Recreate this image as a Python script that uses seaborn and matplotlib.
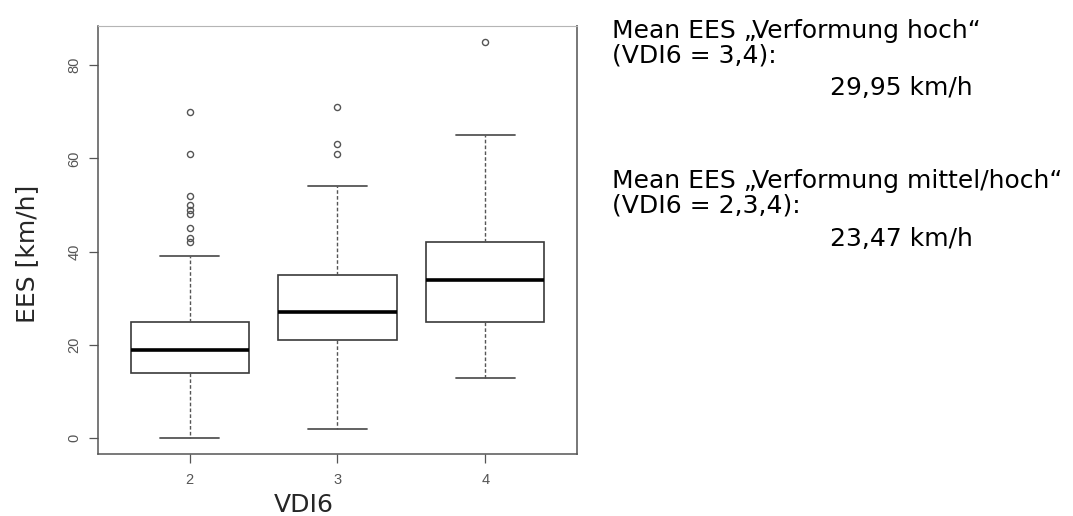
import matplotlib
matplotlib.use("Agg")
import matplotlib.pyplot as plt
import pandas as pd
import seaborn as sns

# Five-number summaries and outliers of EES per VDI6 class
groups = ["2", "3", "4"]
whisker_low = [0, 2, 13]
q1 = [14, 21, 25]
median = [19, 27, 34]
q3 = [25, 35, 42]
whisker_high = [39, 54, 65]
outliers = [
    [42, 43, 45, 48, 49, 50, 52, 61, 70],
    [61, 63, 71],
    [85],
]

mean_high = "29,95 km/h"
mean_mid_high = "23,47 km/h"

# Long-form table whose quartiles, whisker ends and outliers reproduce the summaries
rows = []
for g, lo, a, m, b, hi, out in zip(groups, whisker_low, q1, median, q3,
                                    whisker_high, outliers):
    k = len(out) + 1
    vals = [lo] * k + [a] * k + [m] * k + [b, hi] + list(out)
    rows += [(g, v) for v in vals]
df = pd.DataFrame(rows, columns=["VDI6", "EES"])

sns.set_style("white")
plt.rcParams["font.family"] = ["DejaVu Sans"]

W, H = 1073, 516
fig = plt.figure(figsize=(W / 100, H / 100), dpi=100)
L, R, T, B = 98, 577, 26, 454
ax = fig.add_axes([L / W, 1 - B / H, (R - L) / W, (B - T) / H])

sns.boxplot(
    data=df, x="VDI6", y="EES", order=groups, ax=ax,
    color="white", saturation=1, width=0.8, whis=1.5,
    linecolor="#3a3a3a",
    boxprops=dict(linewidth=1.2, edgecolor="#3a3a3a", facecolor="white"),
    medianprops=dict(linewidth=2.6, color="black"),
    whiskerprops=dict(linewidth=1.0, color="#555555", linestyle=(0, (2.6, 1.6))),
    capprops=dict(linewidth=1.3, color="#555555"),
    flierprops=dict(marker="o", markersize=4.4, markerfacecolor="none",
                    markeredgecolor="#555555", markeredgewidth=1.0),
)

ax.set_xlim(-0.62, 2.62)
ax.set_ylim(-3.4, 88.4)
ax.set_yticks([0, 20, 40, 60, 80])

for side, col, lw in [("left", "#555555", 1.1), ("bottom", "#555555", 1.1),
                      ("top", "#b5b5b5", 0.8), ("right", "#777777", 1.4)]:
    ax.spines[side].set_visible(True)
    ax.spines[side].set_color(col)
    ax.spines[side].set_linewidth(lw)

ax.tick_params(axis="both", which="major", direction="out", length=6.5,
               width=0.9, color="#555555", labelcolor="#555555",
               labelsize=10.5, left=True, bottom=True)
ax.tick_params(axis="y", pad=5.5)
ax.tick_params(axis="x", pad=7)
for lab in ax.get_yticklabels():
    lab.set_rotation(90)
    lab.set_va("center")
    lab.set_ha("right")
for lab in ax.get_xticklabels() + ax.get_yticklabels():
    lab.set_fontfamily("Liberation Sans")

ax.set_ylabel("EES [km/h]", fontsize=18, va="center", ha="center")
ax.yaxis.set_label_coords((27 - L) / (R - L), (B - 254) / (B - T))
ax.set_xlabel("VDI6", fontsize=18, va="center", ha="center")
ax.xaxis.set_label_coords((304 - L) / (R - L), (B - 505) / (B - T))

# Annotations with the group means
def put(x, yb, s, ha="left"):
    fig.text(x / W, 1 - yb / H, s, fontsize=18, ha=ha, va="baseline",
             color="black")

put(612, 38, "Mean EES \u201eVerformung hoch\u201c")
put(612, 62, "(VDI6 = 3,4):")
put(830, 95, mean_high)
put(612, 188, "Mean EES \u201eVerformung mittel/hoch\u201c")
put(612, 212, "(VDI6 = 2,3,4):")
put(830, 246, mean_mid_high)

fig.savefig("out.png", dpi=100, facecolor="white")
